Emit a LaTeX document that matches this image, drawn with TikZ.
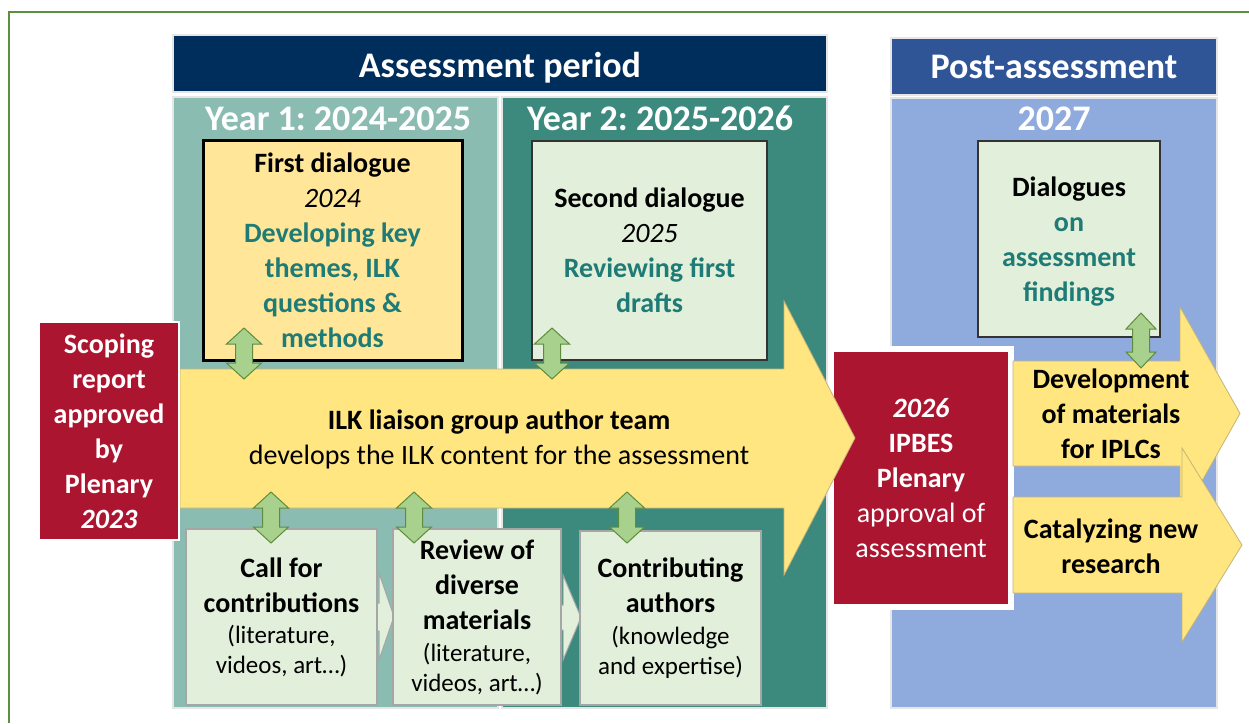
\documentclass[tikz,border=0pt]{standalone}
\usepackage{fontspec}
\setmainfont{Carlito}
\frenchspacing
\definecolor{framegreen}{HTML}{5E8F3E}
\definecolor{navy}{HTML}{002E5C}
\definecolor{postblue}{HTML}{2F5597}
\definecolor{yearone}{HTML}{8BBCB1}
\definecolor{yeartwo}{HTML}{3C8A7E}
\definecolor{postpanel}{HTML}{8FAADC}
\definecolor{sand}{HTML}{FFE699}
\definecolor{arrowyel}{HTML}{FFE680}
\definecolor{arrowedge}{HTML}{C4B47A}
\definecolor{mint}{HTML}{E2EFDA}
\definecolor{leaf}{HTML}{A9D18E}
\definecolor{leafedge}{HTML}{5E8C3E}
\definecolor{crimson}{HTML}{AC1530}
\definecolor{tealtext}{HTML}{1E7B75}
\definecolor{panelrim}{HTML}{E6E6E6}

\tikzset{
  headbox/.style={rectangle, draw=panelrim, line width=1.5pt, inner sep=0pt},
  panelbox/.style={rectangle, draw=panelrim, line width=1.5pt, inner sep=0pt},
  headtext/.style={text=white, font=\fontsize{36}{43}\selectfont\bfseries, anchor=base, inner sep=0pt},
  boxtext/.style={align=center, font=\fontsize{28}{35}\selectfont\bfseries, inner sep=0pt},
  dialoguebox/.style={rectangle, fill=mint, draw=black!80, line width=1.2pt, inner sep=0pt},
  stagebox/.style={rectangle, fill=mint, draw=black!35, line width=1.2pt, inner sep=0pt},
  redbox/.style={rectangle, fill=crimson, draw=white, inner sep=0pt, text=white},
  flowarrow/.style={fill=arrowyel, draw=arrowedge, line width=0.8pt},
  chevron/.style={fill=mint, draw=black!35, line width=1pt},
  dblarrow/.style={fill=leaf, draw=leafedge, line width=1pt, line join=miter},
  pics/updown/.style args={#1/#2}{code={
    % vertical double-headed block arrow: #1 half length, #2 head half width
    \draw[dblarrow] (0,-#1) -- (#2,-#1+16) -- (8.5,-#1+16) -- (8.5,#1-16)
      -- (#2,#1-16) -- (0,#1) -- (-#2,#1-16) -- (-8.5,#1-16)
      -- (-8.5,-#1+16) -- (-#2,-#1+16) -- cycle;}},
}
\newcommand{\tl}[1]{\textcolor{tealtext}{#1}}
\newcommand{\smalltxt}{\fontsize{25}{30}\selectfont\mdseries}

\begin{document}
\begin{tikzpicture}[x=1pt,y=-1pt]
\useasboundingbox (0,0) rectangle (1249,723);
\fill[white] (0,0) rectangle (1249,723);

% outer frame
\draw[framegreen, line width=2pt] (9,723) -- (9,12) -- (1249,12);

% assessment period: header and the two year panels
\node[headbox, fill=navy, minimum width=654pt, minimum height=57pt] (aph) at (500,63.5) {};
\node[headtext] (apt) at (500,77) {Assessment period};
\node[panelbox, fill=yearone, minimum width=325pt, minimum height=611pt] (y1) at (335.5,402.5) {};
\node[panelbox, fill=yeartwo, minimum width=325pt, minimum height=611pt] (y2) at (664.5,402.5) {};
\node[headtext] (y1t) at (338,130) {Year 1: 2024-2025};
\node[headtext] (y2t) at (660,130) {Year 2: 2025-2026};

% post-assessment header and panel
\node[headbox, fill=postblue, minimum width=326pt, minimum height=57pt] (pah) at (1054,66.5) {};
\node[headtext] (pat) at (1054,78) {Post-assessment};
\node[panelbox, fill=postpanel, minimum width=326pt, minimum height=610pt] (pp) at (1054,403) {};
\node[headtext] (ppt) at (1054,130) {2027};

% small arrows linking the bottom stages (partly hidden behind the boxes)
\filldraw[chevron] (340,603) -- (379,603) -- (379,573) -- (394,616.5) -- (379,660) -- (379,631) -- (340,631) -- cycle;
\filldraw[chevron] (540,605) -- (563,605) -- (563,575) -- (581,617.5) -- (563,660) -- (563,630) -- (540,630) -- cycle;

% bottom stages
\node[stagebox, minimum width=191pt, minimum height=176pt, boxtext] (call) at (281.5,617)
  {Call for\\ contributions\\[-4pt] {\smalltxt (literature,}\\[-5pt] {\smalltxt videos, art\dots)}};
\node[stagebox, minimum width=168pt, minimum height=176pt, boxtext] (review) at (477,617)
  {Review of\\ diverse\\ materials\\[-3pt] {\smalltxt (literature,}\\[-5pt] {\smalltxt videos, art\dots)}};
\node[stagebox, minimum width=181pt, minimum height=174pt, boxtext] (contrib) at (670.5,618)
  {Contributing\\ authors\\[-3pt] {\smalltxt (knowledge}\\[-5pt] {\smalltxt and expertise)}};

% dialogue boxes
\node[rectangle, fill=sand, draw=black, line width=3pt, inner sep=0pt,
      minimum width=259pt, minimum height=220pt, boxtext] (fd) at (332.5,250)
  {First dialogue\\ {\mdseries\itshape 2024}\\ \tl{Developing key}\\ \tl{themes, ILK}\\ \tl{questions \&}\\ \tl{methods}};
\node[dialoguebox, minimum width=235pt, minimum height=219pt, boxtext] (sd) at (649.5,250.5)
  {Second dialogue\\ {\mdseries\itshape 2025}\\ \tl{Reviewing first}\\ \tl{drafts}};
\node[dialoguebox, minimum width=182pt, minimum height=196pt] (dd) at (1069,239) {};
\node[boxtext] (ddt) at (1069,242) {Dialogues\\ \tl{on}\\ \tl{assessment}\\ \tl{findings}};

% plenary approval of the assessment
\node[redbox, line width=6pt, minimum width=180pt, minimum height=258pt, boxtext] (ipbes) at (921,478)
  {\itshape 2026\\ IPBES\\ Plenary\\ {\mdseries approval of}\\ {\mdseries assessment}};

% main flow arrow of the ILK liaison group
\filldraw[flowarrow] (180,369) -- (784,369) -- (784,301) -- (855,438) -- (784,575)
  -- (784,508) -- (180,508) -- cycle;
\node[boxtext] (ilk) at (499,439)
  {ILK liaison group author team\\ {\mdseries develops the ILK content for the assessment}};

% post-assessment outputs
\filldraw[flowarrow] (1013,361) -- (1180,361) -- (1180,307) -- (1240,413.5) -- (1180,520)
  -- (1180,466) -- (1013,466) -- cycle;
\node[boxtext] (dev) at (1111,414) {Development\\ of materials\\ for IPLCs};
\filldraw[flowarrow] (1013,497) -- (1182,497) -- (1182,448) -- (1242,545) -- (1182,642)
  -- (1182,593) -- (1013,593) -- cycle;
\node[boxtext] (cat) at (1111,546) {Catalyzing new\\ research};

% scoping report
\node[redbox, line width=2.5pt, minimum width=140pt, minimum height=218pt, boxtext] (scope) at (109,431)
  {Scoping\\ report\\ approved\\ by\\ Plenary\\ \itshape 2023};

% two-way exchanges between the team and each activity
\pic at (244,353.5) {updown=25.5/17.5};
\pic at (552,353.5) {updown=25.5/17.5};
\pic at (271,517.5) {updown=25.5/17.5};
\pic at (414,517.5) {updown=25.5/17.5};
\pic at (627,517.5) {updown=25.5/17.5};
\pic at (1141,340.5) {updown=27.5/15};
\end{tikzpicture}
\end{document}
